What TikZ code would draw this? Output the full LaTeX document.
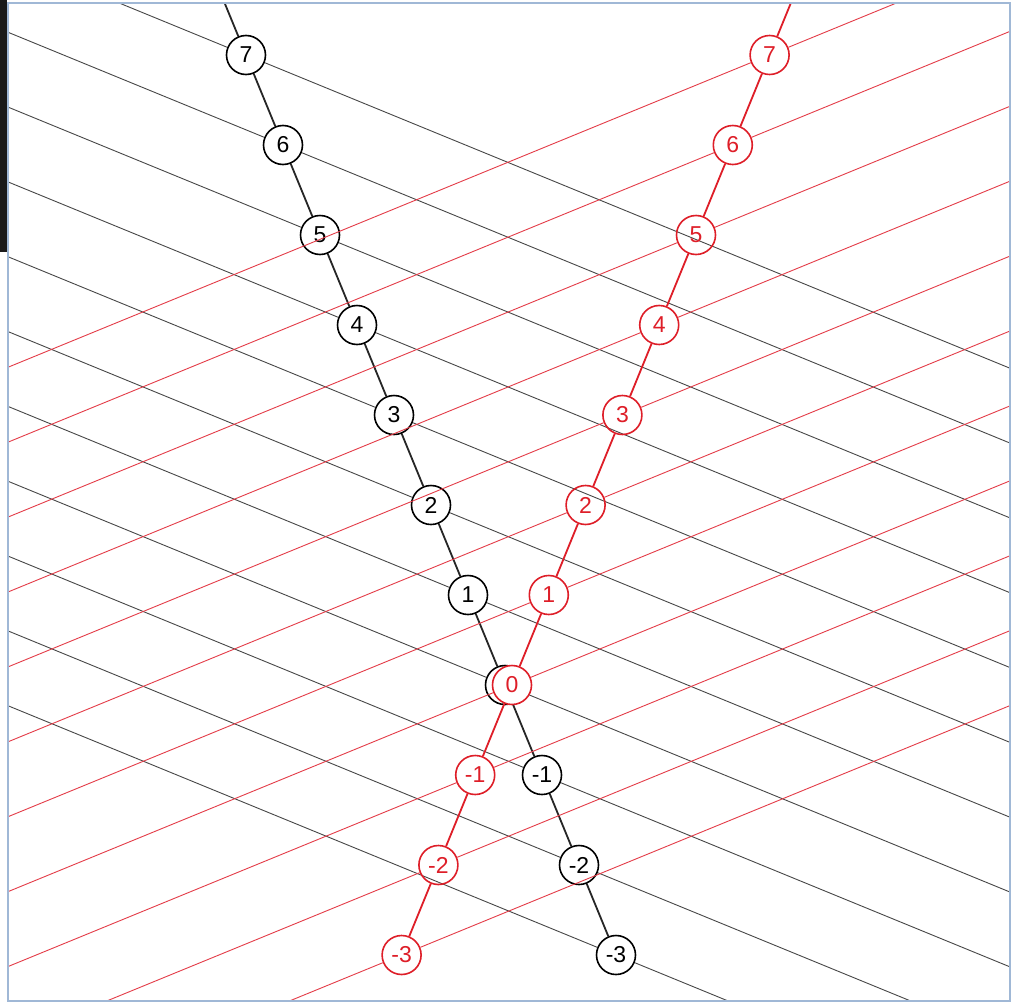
\documentclass[tikz,border=0pt]{standalone}
\usepackage{fontspec}
\setmainfont{Liberation Sans}
\usetikzlibrary{calc}
\definecolor{nred}{RGB}{222,30,40}
\definecolor{lred}{RGB}{228,60,72}
\definecolor{frameblue}{RGB}{160,184,214}
\definecolor{darkbar}{RGB}{26,26,26}
\begin{document}
\begin{tikzpicture}[x=1pt,y=-1pt,
  bnode/.style={circle,draw=black,line width=1.6pt,minimum size=39pt,inner sep=0pt,
    font=\fontsize{23}{26}\selectfont,text=black},
  rnode/.style={bnode,draw=nred,text=nred},
  bchain/.style={draw=black!85,line width=1.8pt},
  rchain/.style={draw=nred,line width=1.8pt},
  bline/.style={draw=black!72,line width=0.9pt},
  rline/.style={draw=lred,line width=0.9pt}]
\useasboundingbox (0,0) rectangle (1022,1004);
\fill[white] (0,0) rectangle (1022,1004);
\fill[darkbar] (0,0) rectangle (7,252);
\begin{scope}
\clip (8,3) rectangle (1010,1001);
% black worldline nodes
\foreach \k in {0,...,10} {
  \pgfmathtruncatemacro{\n}{\k-3}
  \node[bnode] (b\k) at ({505-37*(\n)},{685-90*(\n)}) {\n};
  \coordinate (bl\k) at ($(b\k)+(-1100,-451)$);
  \coordinate (br\k) at ($(b\k)+(1100,451)$);
  \draw[bline] (b\k) -- (bl\k);
  \draw[bline] (b\k) -- (br\k);
}
\foreach \k [evaluate=\k as \j using int(\k+1)] in {0,...,9} {
  \draw[bchain] (b\k) -- (b\j);
}
\coordinate (btop) at ($(b10)+(-37,-90)$);
\draw[bchain] (b10) -- (btop);
% red worldline nodes
\foreach \k in {0,...,10} {
  \pgfmathtruncatemacro{\n}{\k-3}
  \ifnum\k=3
    \node[rnode,fill=white] (r\k) at ({512+36.8*(\n)},{685-90*(\n)}) {\n};
  \else
    \node[rnode] (r\k) at ({512+36.8*(\n)},{685-90*(\n)}) {\n};
  \fi
  \coordinate (rl\k) at ($(r\k)+(-1100,451)$);
  \coordinate (rr\k) at ($(r\k)+(1100,-451)$);
  \draw[rline] (r\k) -- (rl\k);
  \draw[rline] (r\k) -- (rr\k);
}
\foreach \k [evaluate=\k as \j using int(\k+1)] in {0,...,9} {
  \draw[rchain] (r\k) -- (r\j);
}
\coordinate (rtop) at ($(r10)+(36.8,-90)$);
\draw[rchain] (r10) -- (rtop);
\end{scope}
\draw[frameblue,line width=2pt] (8,3) rectangle (1010,1001);
\end{tikzpicture}
\end{document}
